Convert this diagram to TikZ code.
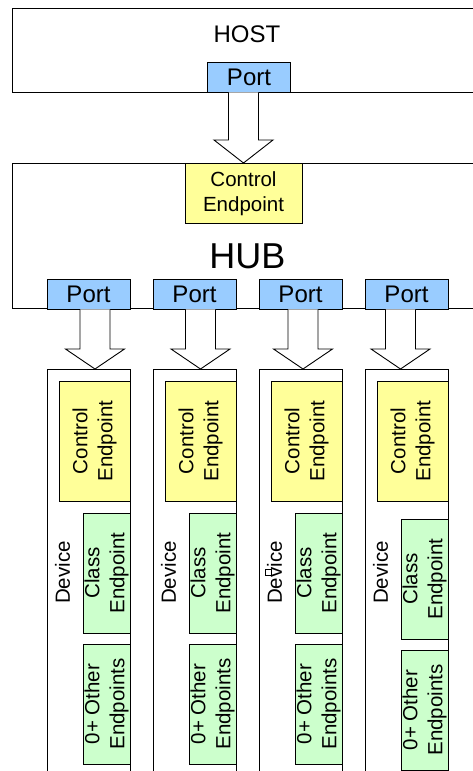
\documentclass[tikz,border=0pt]{standalone}
\usepackage{fontspec}
\setmainfont{Liberation Sans}
\usepackage{xcolor}
\usepackage{tikz}
\usetikzlibrary{calc}
\usetikzlibrary{positioning}

\definecolor{portblue}{HTML}{99CCFF}
\definecolor{ctrlyellow}{HTML}{FFFF99}
\definecolor{epgreen}{HTML}{CCFFCC}

% hollow arrow: port node, tip coordinate, head length
\newcommand{\blockarrow}[3]{%
  \draw [fill=white] ($(#1.south -| #2)+(-15,0)$) -- ($(#2)+(-15,-#3)$)
  -- ($(#2)+(-29.5,-#3)$) -- (#2) -- ($(#2)+(29.5,-#3)$)
  -- ($(#2)+(15,-#3)$) -- ($(#1.south -| #2)+(15,0)$);
}

\begin{document}
\begin{tikzpicture}[x=1pt, y=-1pt, line width=0.9pt,
    box/.style={draw, inner sep=0pt},
    port/.style={box, fill=portblue, minimum width=83, minimum height=30,
      font=\fontsize{24}{24}\selectfont},
    ctrl/.style={box, fill=ctrlyellow, align=center,
      font=\fontsize{20.5}{25}\selectfont},
    ep/.style={box, fill=epgreen, align=center, rotate=90,
      minimum width=120, minimum height=47, font=\fontsize{20.5}{25}\selectfont},
    devlabel/.style={rotate=90, font=\fontsize{20.5}{24}\selectfont}]

  \clip (0,0) rectangle (473,771);

  % host
  \node [box, minimum width=478, minimum height=84, anchor=north west] (host) at (12,8) {};
  \node [font=\fontsize{24}{24}\selectfont] (hostlabel) at (247,34) {HOST};
  \node [port] (hostport) at (249,77) {Port};

  % hub
  \node [box, minimum width=478, minimum height=145, anchor=north west] (hub) at (12,163) {};
  \node [ctrl, minimum width=117, minimum height=60, anchor=north] (hubctrl) at (243.5,163)
    {Control\\Endpoint};
  \node [font=\fontsize{36}{36}\selectfont] (hublabel) at (247.5,256) {HUB};

  \blockarrow{hostport}{hubctrl.north}{23}

  % devices
  \foreach \i/\x/\dx/\dy in {1/88.5/6.5/0, 2/194.5/6/0, 3/300.5/2.5/0, 4/406.5/-6/6} {
    \node [port] (port\i) at (\x,294) {Port};
    \node [box, minimum width=83, minimum height=420, anchor=north] (dev\i) at (\x,369) {};
    \node [devlabel] (devlabel\i) at (\x-26,572.5) {Device};
    \node [ep, fill=ctrlyellow, minimum height=71] (devctrl\i) at (\x+6,441)
      {Control\\Endpoint};
    \node [ep] (class\i) at (\x+18,573+\dy) {Class\\Endpoint};
    \node [ep] (other\i) at (\x+18,704+\dy) {0+ Other\\Endpoints};
    \coordinate (tip\i) at (\x+\dx,369);
    \blockarrow{port\i}{tip\i}{20}
  }

  \draw [fill=white, line width=0.6pt] (265,569) rectangle (271,575);

\end{tikzpicture}
\end{document}
